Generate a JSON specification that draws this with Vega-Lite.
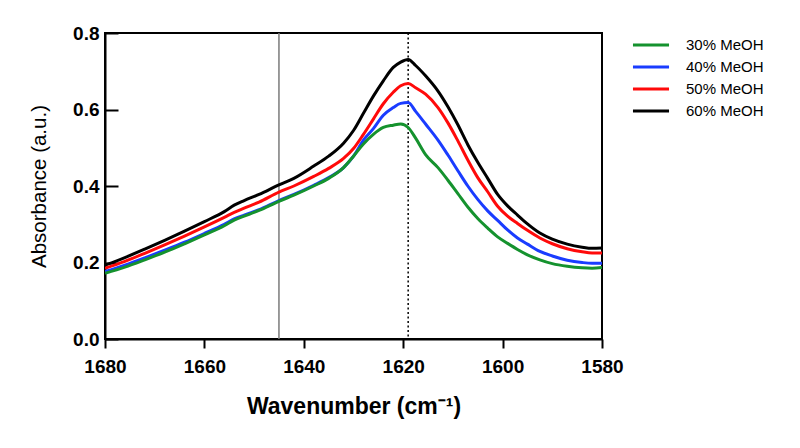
{
  "$schema": "https://vega.github.io/schema/vega-lite/v6.json",
  "autosize": "none",
  "width": 497,
  "height": 306,
  "padding": {"left": 105, "top": 33, "right": 198, "bottom": 109},
  "background": "white",
  "config": {
    "font": "Liberation Sans",
    "view": {"stroke": "black", "strokeWidth": 2},
    "axis": {"grid": false, "domainColor": "black", "domainWidth": 2, "tickColor": "black", "tickWidth": 2, "labelColor": "black", "titleColor": "black", "labelFont": "Liberation Sans", "titleFont": "Liberation Sans"}
  },
  "datasets": {
    "spectra": [
      {"wn": 1680, "s": "60% MeOH", "a": 0.193}, {"wn": 1676, "s": "60% MeOH", "a": 0.213}, {"wn": 1672, "s": "60% MeOH", "a": 0.235}, {"wn": 1668, "s": "60% MeOH", "a": 0.258}, {"wn": 1664, "s": "60% MeOH", "a": 0.282}, {"wn": 1660, "s": "60% MeOH", "a": 0.307}, {"wn": 1656, "s": "60% MeOH", "a": 0.333}, {"wn": 1654, "s": "60% MeOH", "a": 0.35}, {"wn": 1652, "s": "60% MeOH", "a": 0.362}, {"wn": 1649, "s": "60% MeOH", "a": 0.378}, {"wn": 1645, "s": "60% MeOH", "a": 0.403}, {"wn": 1642, "s": "60% MeOH", "a": 0.42}, {"wn": 1638, "s": "60% MeOH", "a": 0.452}, {"wn": 1635, "s": "60% MeOH", "a": 0.478}, {"wn": 1632, "s": "60% MeOH", "a": 0.512}, {"wn": 1630, "s": "60% MeOH", "a": 0.545}, {"wn": 1628, "s": "60% MeOH", "a": 0.59}, {"wn": 1626, "s": "60% MeOH", "a": 0.635}, {"wn": 1624, "s": "60% MeOH", "a": 0.675}, {"wn": 1622, "s": "60% MeOH", "a": 0.71}, {"wn": 1620.5, "s": "60% MeOH", "a": 0.724}, {"wn": 1619, "s": "60% MeOH", "a": 0.731}, {"wn": 1617.5, "s": "60% MeOH", "a": 0.715}, {"wn": 1615.5, "s": "60% MeOH", "a": 0.688}, {"wn": 1613, "s": "60% MeOH", "a": 0.648}, {"wn": 1611, "s": "60% MeOH", "a": 0.607}, {"wn": 1609, "s": "60% MeOH", "a": 0.56}, {"wn": 1607, "s": "60% MeOH", "a": 0.508}, {"wn": 1605, "s": "60% MeOH", "a": 0.462}, {"wn": 1603, "s": "60% MeOH", "a": 0.42}, {"wn": 1601, "s": "60% MeOH", "a": 0.378}, {"wn": 1599, "s": "60% MeOH", "a": 0.348}, {"wn": 1597, "s": "60% MeOH", "a": 0.324}, {"wn": 1595, "s": "60% MeOH", "a": 0.301}, {"wn": 1592.5, "s": "60% MeOH", "a": 0.277}, {"wn": 1590, "s": "60% MeOH", "a": 0.261}, {"wn": 1587, "s": "60% MeOH", "a": 0.248}, {"wn": 1584, "s": "60% MeOH", "a": 0.24}, {"wn": 1582, "s": "60% MeOH", "a": 0.237}, {"wn": 1580, "s": "60% MeOH", "a": 0.238},

      {"wn": 1680, "s": "50% MeOH", "a": 0.185}, {"wn": 1676, "s": "50% MeOH", "a": 0.203}, {"wn": 1672, "s": "50% MeOH", "a": 0.224}, {"wn": 1668, "s": "50% MeOH", "a": 0.246}, {"wn": 1664, "s": "50% MeOH", "a": 0.269}, {"wn": 1660, "s": "50% MeOH", "a": 0.293}, {"wn": 1656, "s": "50% MeOH", "a": 0.318}, {"wn": 1654, "s": "50% MeOH", "a": 0.331}, {"wn": 1652, "s": "50% MeOH", "a": 0.342}, {"wn": 1649, "s": "50% MeOH", "a": 0.358}, {"wn": 1645, "s": "50% MeOH", "a": 0.384}, {"wn": 1642, "s": "50% MeOH", "a": 0.4}, {"wn": 1638, "s": "50% MeOH", "a": 0.425}, {"wn": 1635, "s": "50% MeOH", "a": 0.446}, {"wn": 1632, "s": "50% MeOH", "a": 0.472}, {"wn": 1630, "s": "50% MeOH", "a": 0.498}, {"wn": 1628, "s": "50% MeOH", "a": 0.535}, {"wn": 1626, "s": "50% MeOH", "a": 0.575}, {"wn": 1624, "s": "50% MeOH", "a": 0.615}, {"wn": 1622, "s": "50% MeOH", "a": 0.645}, {"wn": 1620.5, "s": "50% MeOH", "a": 0.662}, {"wn": 1619, "s": "50% MeOH", "a": 0.668}, {"wn": 1617.5, "s": "50% MeOH", "a": 0.657}, {"wn": 1615.5, "s": "50% MeOH", "a": 0.64}, {"wn": 1613, "s": "50% MeOH", "a": 0.605}, {"wn": 1611, "s": "50% MeOH", "a": 0.565}, {"wn": 1609, "s": "50% MeOH", "a": 0.518}, {"wn": 1607, "s": "50% MeOH", "a": 0.468}, {"wn": 1605, "s": "50% MeOH", "a": 0.422}, {"wn": 1603, "s": "50% MeOH", "a": 0.385}, {"wn": 1601, "s": "50% MeOH", "a": 0.347}, {"wn": 1599, "s": "50% MeOH", "a": 0.321}, {"wn": 1597, "s": "50% MeOH", "a": 0.302}, {"wn": 1595, "s": "50% MeOH", "a": 0.284}, {"wn": 1592.5, "s": "50% MeOH", "a": 0.264}, {"wn": 1590, "s": "50% MeOH", "a": 0.249}, {"wn": 1587, "s": "50% MeOH", "a": 0.236}, {"wn": 1584, "s": "50% MeOH", "a": 0.228}, {"wn": 1582, "s": "50% MeOH", "a": 0.225}, {"wn": 1580, "s": "50% MeOH", "a": 0.225},

      {"wn": 1680, "s": "40% MeOH", "a": 0.176}, {"wn": 1676, "s": "40% MeOH", "a": 0.193}, {"wn": 1672, "s": "40% MeOH", "a": 0.212}, {"wn": 1668, "s": "40% MeOH", "a": 0.232}, {"wn": 1664, "s": "40% MeOH", "a": 0.253}, {"wn": 1660, "s": "40% MeOH", "a": 0.276}, {"wn": 1656, "s": "40% MeOH", "a": 0.3}, {"wn": 1654, "s": "40% MeOH", "a": 0.314}, {"wn": 1652, "s": "40% MeOH", "a": 0.324}, {"wn": 1649, "s": "40% MeOH", "a": 0.338}, {"wn": 1645, "s": "40% MeOH", "a": 0.362}, {"wn": 1642, "s": "40% MeOH", "a": 0.378}, {"wn": 1638, "s": "40% MeOH", "a": 0.402}, {"wn": 1635, "s": "40% MeOH", "a": 0.422}, {"wn": 1632, "s": "40% MeOH", "a": 0.448}, {"wn": 1630, "s": "40% MeOH", "a": 0.478}, {"wn": 1628, "s": "40% MeOH", "a": 0.52}, {"wn": 1626, "s": "40% MeOH", "a": 0.55}, {"wn": 1624, "s": "40% MeOH", "a": 0.585}, {"wn": 1622, "s": "40% MeOH", "a": 0.605}, {"wn": 1620.5, "s": "40% MeOH", "a": 0.616}, {"wn": 1619, "s": "40% MeOH", "a": 0.618}, {"wn": 1617.5, "s": "40% MeOH", "a": 0.595}, {"wn": 1615.5, "s": "40% MeOH", "a": 0.562}, {"wn": 1613, "s": "40% MeOH", "a": 0.52}, {"wn": 1611, "s": "40% MeOH", "a": 0.481}, {"wn": 1609, "s": "40% MeOH", "a": 0.44}, {"wn": 1607, "s": "40% MeOH", "a": 0.4}, {"wn": 1605, "s": "40% MeOH", "a": 0.365}, {"wn": 1603, "s": "40% MeOH", "a": 0.335}, {"wn": 1601, "s": "40% MeOH", "a": 0.31}, {"wn": 1599, "s": "40% MeOH", "a": 0.285}, {"wn": 1597, "s": "40% MeOH", "a": 0.264}, {"wn": 1595, "s": "40% MeOH", "a": 0.248}, {"wn": 1592.5, "s": "40% MeOH", "a": 0.229}, {"wn": 1590, "s": "40% MeOH", "a": 0.217}, {"wn": 1587, "s": "40% MeOH", "a": 0.206}, {"wn": 1584, "s": "40% MeOH", "a": 0.2}, {"wn": 1582, "s": "40% MeOH", "a": 0.198}, {"wn": 1580, "s": "40% MeOH", "a": 0.198},

      {"wn": 1680, "s": "30% MeOH", "a": 0.172}, {"wn": 1676, "s": "30% MeOH", "a": 0.188}, {"wn": 1672, "s": "30% MeOH", "a": 0.207}, {"wn": 1668, "s": "30% MeOH", "a": 0.227}, {"wn": 1664, "s": "30% MeOH", "a": 0.249}, {"wn": 1660, "s": "30% MeOH", "a": 0.272}, {"wn": 1656, "s": "30% MeOH", "a": 0.296}, {"wn": 1654, "s": "30% MeOH", "a": 0.311}, {"wn": 1652, "s": "30% MeOH", "a": 0.321}, {"wn": 1649, "s": "30% MeOH", "a": 0.336}, {"wn": 1645, "s": "30% MeOH", "a": 0.36}, {"wn": 1642, "s": "30% MeOH", "a": 0.376}, {"wn": 1638, "s": "30% MeOH", "a": 0.4}, {"wn": 1635, "s": "30% MeOH", "a": 0.42}, {"wn": 1632, "s": "30% MeOH", "a": 0.448}, {"wn": 1630, "s": "30% MeOH", "a": 0.478}, {"wn": 1628, "s": "30% MeOH", "a": 0.51}, {"wn": 1626, "s": "30% MeOH", "a": 0.535}, {"wn": 1624, "s": "30% MeOH", "a": 0.553}, {"wn": 1622, "s": "30% MeOH", "a": 0.559}, {"wn": 1620.5, "s": "30% MeOH", "a": 0.562}, {"wn": 1619, "s": "30% MeOH", "a": 0.553}, {"wn": 1617.5, "s": "30% MeOH", "a": 0.525}, {"wn": 1615.5, "s": "30% MeOH", "a": 0.482}, {"wn": 1613, "s": "30% MeOH", "a": 0.448}, {"wn": 1611, "s": "30% MeOH", "a": 0.415}, {"wn": 1609, "s": "30% MeOH", "a": 0.38}, {"wn": 1607, "s": "30% MeOH", "a": 0.345}, {"wn": 1605, "s": "30% MeOH", "a": 0.315}, {"wn": 1603, "s": "30% MeOH", "a": 0.29}, {"wn": 1601, "s": "30% MeOH", "a": 0.267}, {"wn": 1599, "s": "30% MeOH", "a": 0.25}, {"wn": 1597, "s": "30% MeOH", "a": 0.234}, {"wn": 1595, "s": "30% MeOH", "a": 0.22}, {"wn": 1592.5, "s": "30% MeOH", "a": 0.207}, {"wn": 1590, "s": "30% MeOH", "a": 0.197}, {"wn": 1587, "s": "30% MeOH", "a": 0.19}, {"wn": 1584, "s": "30% MeOH", "a": 0.186}, {"wn": 1582, "s": "30% MeOH", "a": 0.185}, {"wn": 1580, "s": "30% MeOH", "a": 0.187}
    ],
    "markers": [
      {"wn": 1645, "kind": "solid"},
      {"wn": 1619, "kind": "dotted"}
    ]
  },
  "layer": [
    {
      "data": {"name": "markers"},
      "transform": [{"filter": "datum.kind == 'solid'"}],
      "mark": {"type": "rule", "color": "#7a7a7a", "strokeWidth": 1.5},
      "encoding": {"x": {"field": "wn", "type": "quantitative"}}
    },
    {
      "data": {"name": "markers"},
      "transform": [{"filter": "datum.kind == 'dotted'"}],
      "mark": {"type": "rule", "color": "black", "strokeWidth": 1.5, "strokeDash": [2, 2.5]},
      "encoding": {"x": {"field": "wn", "type": "quantitative"}}
    },
    {
      "data": {"name": "spectra"},
      "mark": {"type": "line", "strokeWidth": 3, "interpolate": "monotone", "clip": true},
      "encoding": {
        "x": {
          "field": "wn", "type": "quantitative",
          "scale": {"domain": [1680, 1580], "nice": false, "zero": false},
          "axis": {
            "title": "Wavenumber (cm⁻¹)", "values": [1680, 1660, 1640, 1620, 1600, 1580],
            "format": "d", "tickSize": 9, "labelFontSize": 19, "labelFontWeight": "bold", "labelPadding": 9, "labelFlush": false,
            "titleFontSize": 23, "titleFontWeight": "bold", "titlePadding": 19
          }
        },
        "y": {
          "field": "a", "type": "quantitative",
          "scale": {"domain": [0, 0.8], "nice": false},
          "axis": {
            "title": "Absorbance (a.u.)", "values": [0, 0.2, 0.4, 0.6, 0.8],
            "format": ".1f", "tickSize": -13, "labelFontSize": 19, "labelFontWeight": "bold", "labelPadding": 19, "labelFlush": false,
            "titleFontSize": 20.5, "titleFontWeight": "normal", "titlePadding": 23
          }
        },
        "color": {
          "field": "s", "type": "nominal",
          "scale": {"domain": ["30% MeOH", "40% MeOH", "50% MeOH", "60% MeOH"], "range": ["#15922e", "#1a3cff", "#ff0a0a", "#000000"]},
          "legend": {
            "title": null, "orient": "none", "legendX": 535, "legendY": 1,
            "symbolType": "M-2,0H2", "symbolSize": 325, "symbolStrokeWidth": 3,
            "labelFontSize": 15, "labelFont": "Liberation Sans", "labelColor": "black", "labelOffset": 24, "rowPadding": 3
          }
        },
        "order": {"value": 0}
      }
    }
  ]
}
